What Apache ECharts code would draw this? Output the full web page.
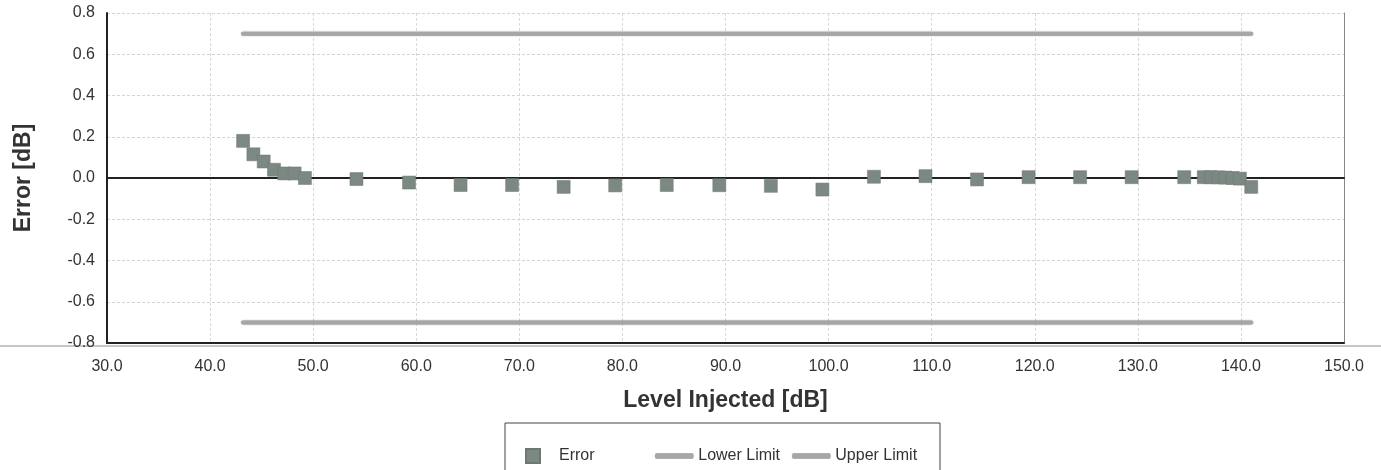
<!DOCTYPE html>
<html>
<head>
<meta charset="utf-8">
<script src="https://cdn.jsdelivr.net/npm/echarts@6/dist/echarts.min.js"></script>
<style>
  html, body { margin: 0; padding: 0; background: #fff; }
  #chart { width: 1381px; height: 470px; }
</style>
</head>
<body>
<div id="chart"></div>
<script>
// measured error points [level, error]
const levels = [43.2, 44.2, 45.2, 46.2, 47.2, 48.2, 49.2, 54.2, 59.3, 64.3, 69.3, 74.3, 79.3, 84.3, 89.4, 94.4, 99.4,
  104.4, 109.4, 114.4, 119.4, 124.4, 129.4, 134.5, 136.4, 137.1, 137.8, 138.5, 139.2, 139.9, 141.0]
const errors = [0.18, 0.115, 0.08, 0.04, 0.022, 0.022, 0.0, -0.005, -0.022, -0.034, -0.034, -0.043, -0.036, -0.034, -0.035, -0.038, -0.056,
  0.006, 0.009, -0.007, 0.004, 0.004, 0.004, 0.004, 0.004, 0.004, 0.003, 0.002, 0.0, -0.003, -0.043]
const limitLevels = [43.2, 141.0]
const lowerLimit = [-0.7, -0.7]
const upperLimit = [0.7, 0.7]
const xTicks = { min: 30, max: 150, step: 10 }
const yTicks = { min: -0.8, max: 0.8, step: 0.2 }

const font = 'Liberation Sans, Arial, sans-serif'
const limitColor = '#a6a6a6'

var myChart = echarts.init(document.getElementById('chart'))

myChart.setOption({
  animation: false,
  textStyle: { fontFamily: font },
  grid: { left: 107, right: 37, top: 13, bottom: 127 },
  graphic: [
    // scanner streak under the plot
    { type: 'line', z: -1, shape: { x1: 0, y1: 346, x2: 1381, y2: 346 }, style: { stroke: '#c4c8cc', lineWidth: 2 } },
    // legend frame
    { type: 'rect', shape: { x: 505, y: 423, width: 435, height: 60 }, style: { fill: 'none', stroke: '#444', lineWidth: 1 } }
  ],
  legend: [
    {
      data: ['Error'],
      left: 520, top: 443,
      itemWidth: 14, itemHeight: 14,
      textStyle: { fontSize: 16, color: '#333', padding: [0, 0, 0, 14] }
    },
    {
      data: [
        { name: 'Lower Limit', icon: 'roundRect' },
        { name: 'Upper Limit', icon: 'roundRect' }
      ],
      left: 650, top: 443,
      itemWidth: 38, itemHeight: 5, itemGap: 12,
      itemStyle: { color: limitColor, borderColor: '#8f8f8f', borderWidth: 0.5 },
      textStyle: { fontSize: 16, color: '#333', lineHeight: 14, padding: [0, 0, 0, 0] }
    }
  ],
  xAxis: [
    {
      type: 'value',
      min: xTicks.min, max: xTicks.max, interval: xTicks.step,
      name: 'Level Injected [dB]',
      nameLocation: 'middle',
      nameGap: 46,
      nameTextStyle: { fontSize: 23, fontWeight: 'bold', color: '#333' },
      axisLine: { onZero: false, lineStyle: { color: '#222', width: 2 } },
      axisTick: { show: false },
      axisLabel: { fontSize: 16, color: '#333', margin: 16, formatter: v => v.toFixed(1) },
      splitLine: { lineStyle: { color: '#d9d9d9', type: [3, 2], width: 1 } }
    },
    {
      // zero line across the plot
      type: 'value',
      min: xTicks.min, max: xTicks.max,
      position: 'bottom',
      axisLine: { onZero: true, lineStyle: { color: '#222', width: 2 } },
      axisTick: { show: false },
      axisLabel: { show: false },
      splitLine: { show: false }
    }
  ],
  yAxis: [
    {
      type: 'value',
      min: yTicks.min, max: yTicks.max, interval: yTicks.step,
      name: 'Error [dB]',
      nameLocation: 'middle',
      nameGap: 72,
      nameTextStyle: { fontSize: 23, fontWeight: 'bold', color: '#333' },
      axisLine: { show: true, onZero: false, lineStyle: { color: '#222', width: 2 } },
      axisTick: { show: false },
      axisLabel: { fontSize: 16, color: '#333', margin: 12, formatter: v => v.toFixed(1) },
      splitLine: { lineStyle: { color: '#d4d4d4', type: [3, 2], width: 1 } }
    },
    {
      type: 'value',
      min: yTicks.min, max: yTicks.max,
      position: 'right',
      axisLine: { show: true, onZero: false, lineStyle: { color: '#888', width: 1 } },
      axisTick: { show: false },
      axisLabel: { show: false },
      splitLine: { show: false }
    }
  ],
  series: [
    {
      name: 'Lower Limit',
      type: 'line',
      symbol: 'none',
      color: limitColor,
      lineStyle: { width: 4, color: limitColor, cap: 'round', shadowColor: 'rgba(0,0,0,0.4)', shadowBlur: 1.5 },
      data: limitLevels.map((x, i) => [x, lowerLimit[i]])
    },
    {
      name: 'Upper Limit',
      type: 'line',
      symbol: 'none',
      color: limitColor,
      lineStyle: { width: 4, color: limitColor, cap: 'round', shadowColor: 'rgba(0,0,0,0.4)', shadowBlur: 1.5 },
      data: limitLevels.map((x, i) => [x, upperLimit[i]])
    },
    {
      name: 'Error',
      type: 'scatter',
      symbol: 'rect',
      symbolSize: 13,
      z: 3,
      itemStyle: { color: '#7c8982', borderColor: '#6c7871', borderWidth: 0.5, opacity: 1 },
      data: levels.map((x, i) => [x, errors[i]])
    }
  ]
})
</script>
</body>
</html>
